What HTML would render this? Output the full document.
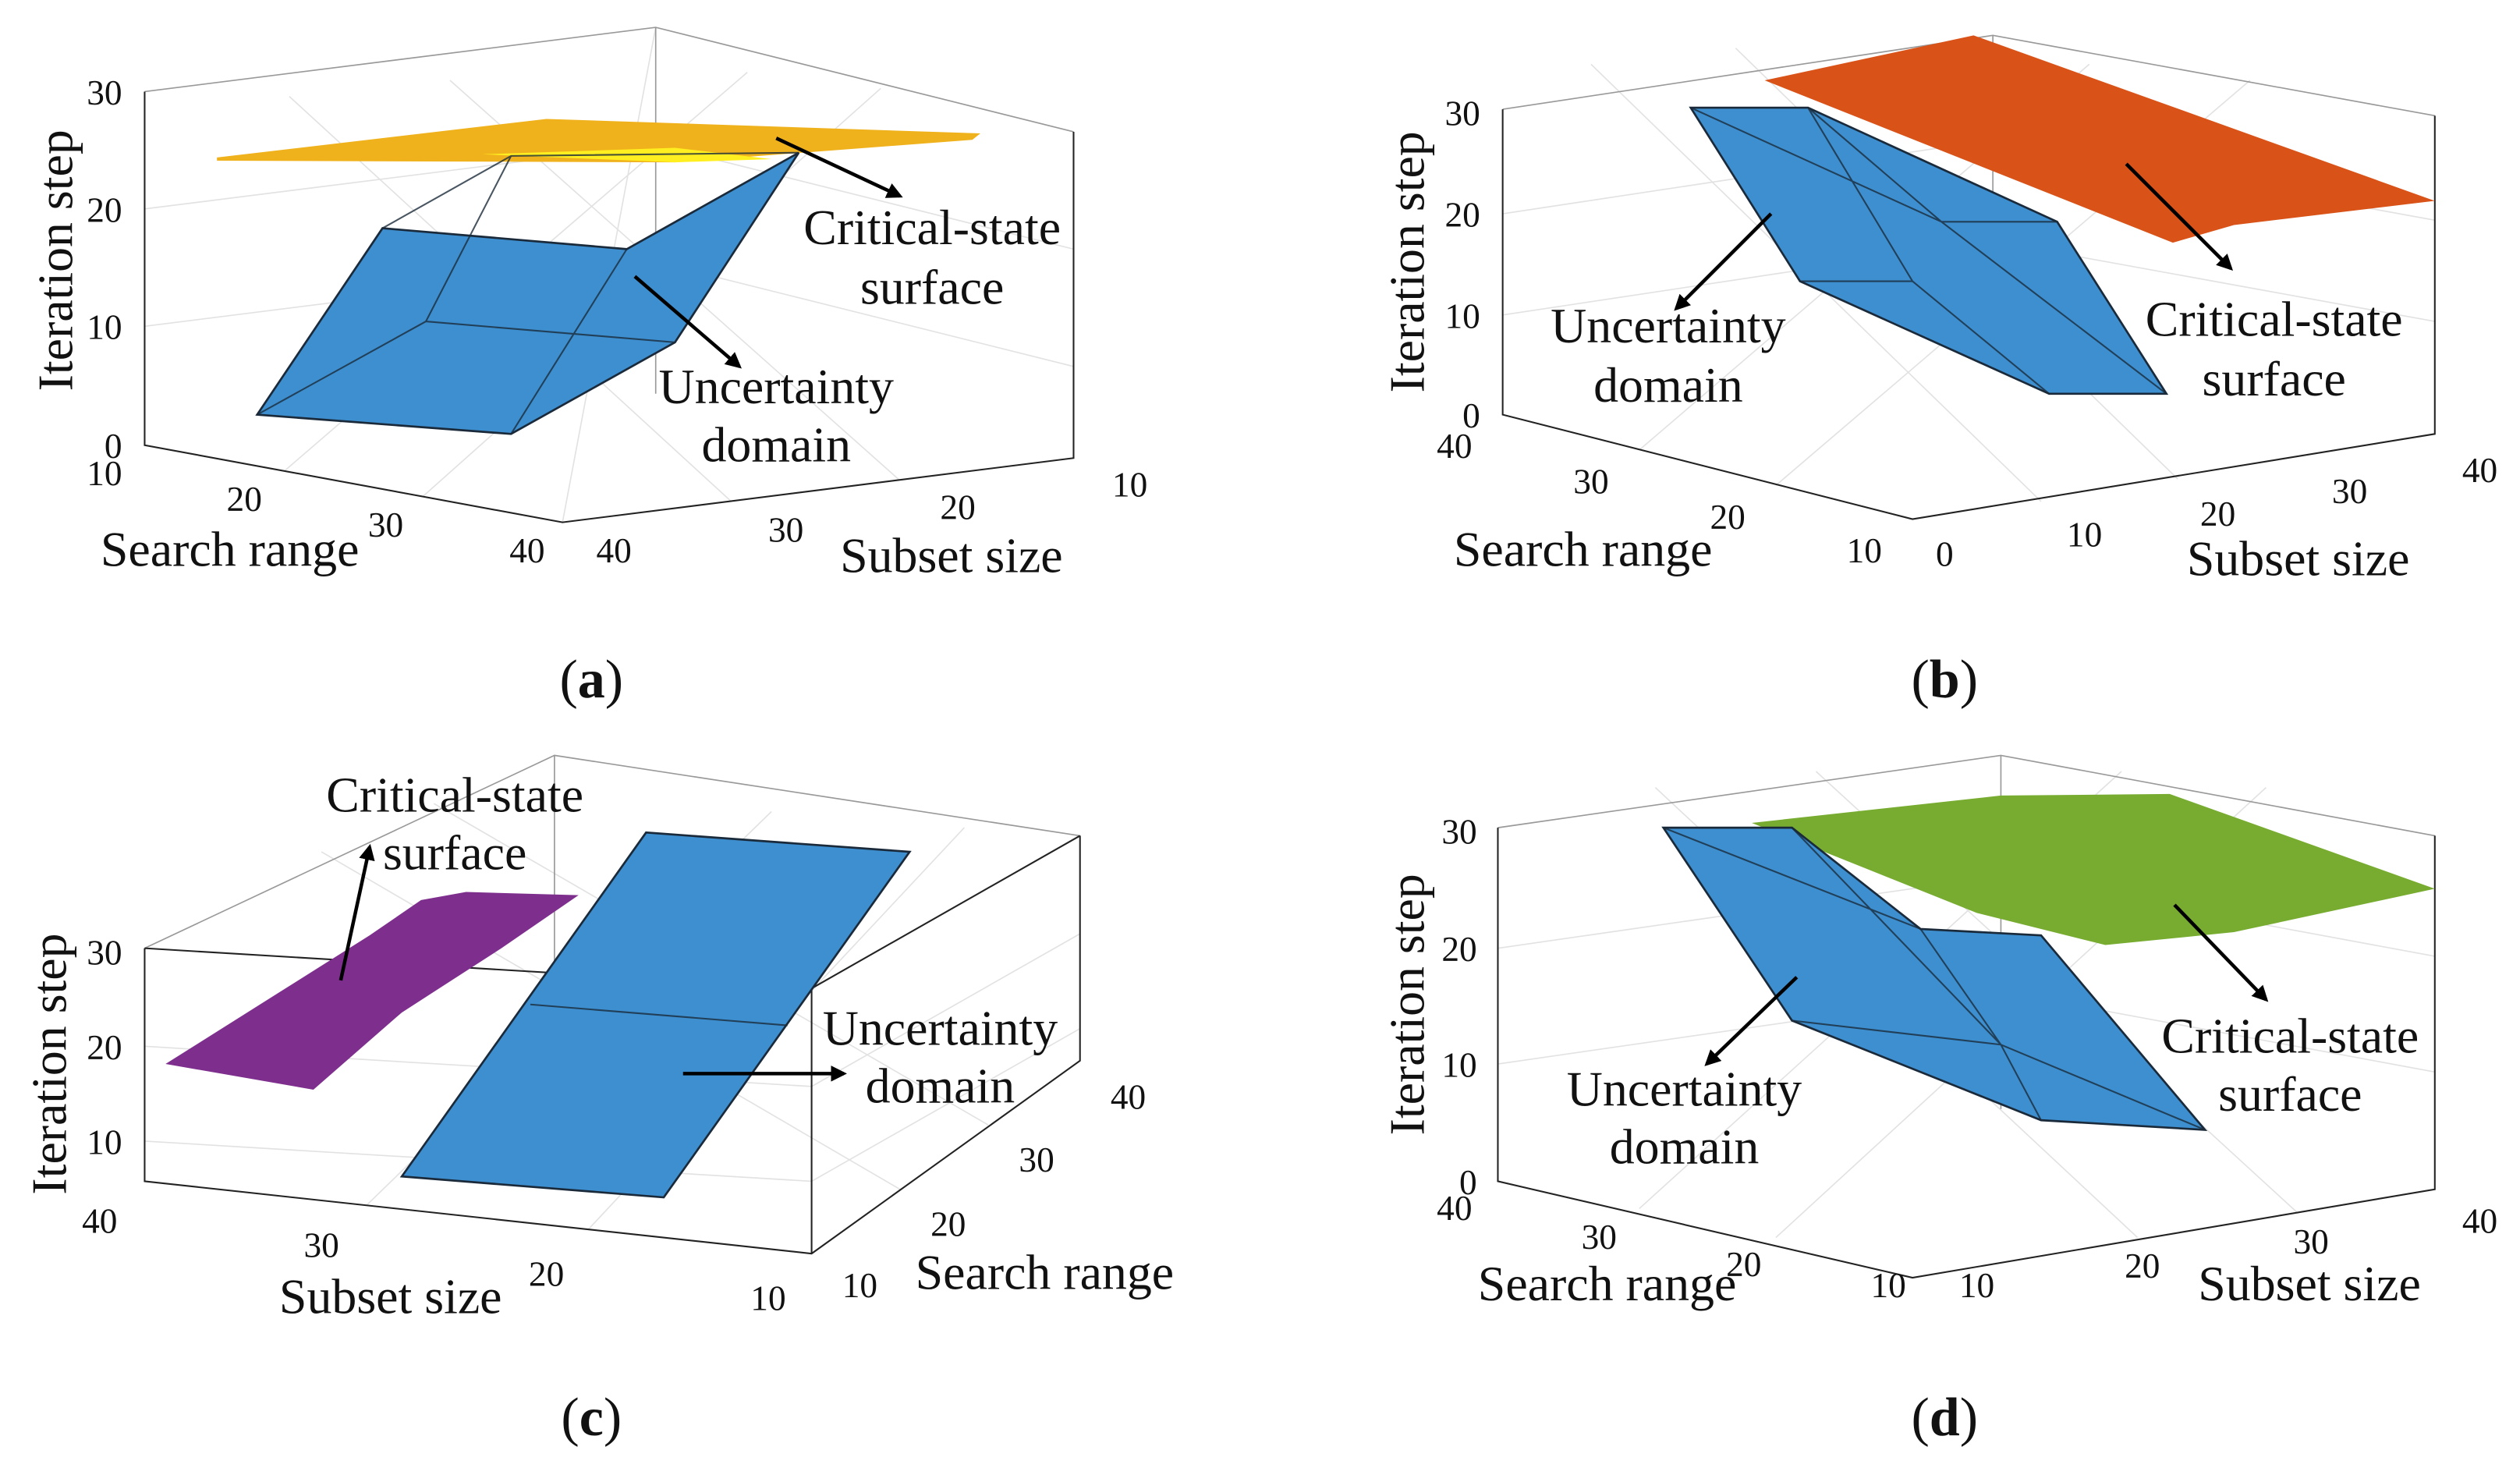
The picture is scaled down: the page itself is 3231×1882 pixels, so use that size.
<!DOCTYPE html>
<html><head><meta charset="utf-8"><style>
html,body{margin:0;padding:0;background:#fff;}
svg{display:block;}
text{font-family:"Liberation Serif",serif;fill:#111;}
.t{font-size:22px;}
.l{font-size:31px;}
.c{font-size:34px;}
.ax{stroke:#222;stroke-width:1;fill:none;}
.bk{stroke:#999;stroke-width:0.8;fill:none;}
.g{stroke:#e2e2e2;stroke-width:0.8;fill:none;}
.bl{fill:#3d8fcf;stroke:#1a2a3a;stroke-width:1.3;}
.in{stroke:#1a2a3a;stroke-width:1;fill:none;opacity:.8;}
.ar{stroke:#000;stroke-width:2.2;fill:none;marker-end:url(#ah);}
</style></head><body>
<svg width="3231" height="1882" viewBox="0 0 1568 913.4" preserveAspectRatio="none" xmlns="http://www.w3.org/2000/svg">
<defs><marker id="ah" markerWidth="10" markerHeight="10" refX="8" refY="5" orient="auto" markerUnits="userSpaceOnUse" viewBox="0 0 10 10"><path d="M0,0 L10,5 L0,10 z" fill="#000"/></marker></defs>
<rect width="1568" height="913.4" fill="#fff"/>

<!-- (a) -->
<g>
<path class="g" d="M90,130 L408,90 L668,155 M90,203 L408,163 L668,228 M177,293 L465,45 M263,309 L548,55 M350,325 L408,17 M560,299 L280,50 M455,312 L180,60"/>
<path class="bk" d="M90,57 L408,17 L668,82 M408,17 L408,245"/>
<path class="ax" d="M90,57 L90,277 L350,325 L668,285 L668,82"/>
<path d="M135,98 L340,74 L610,83 L605,87 L420,101 L135,100 z" fill="#f0b21c"/>
<path d="M300,96 L420,92 L480,99 L420,101 z" fill="#ffef20"/>
<path class="bl" d="M160,258 L238,142 L390,155 L497,95 L420,213 L318,270 z"/>
<path class="in" d="M238,142 L318,97 L497,95 M318,97 L265,200 L160,258 M265,200 L420,213 M390,155 L318,270"/>
<path class="ar" d="M483,86 L560,122"/><path class="ar" d="M395,172 L460,228"/>
<g class="t" text-anchor="end"><text x="76" y="65">30</text><text x="76" y="138">20</text><text x="76" y="211">10</text><text x="76" y="285">0</text></g>
<g class="t" text-anchor="middle"><text x="65" y="302">10</text><text x="152" y="318">20</text><text x="240" y="334">30</text><text x="328" y="350">40</text>
<text x="382" y="350">40</text><text x="489" y="337">30</text><text x="596" y="323">20</text><text x="703" y="309">10</text></g>
<g class="l" text-anchor="middle"><text x="143" y="352">Search range</text><text x="592" y="356">Subset size</text>
<text transform="translate(45,162) rotate(-90)">Iteration step</text>
<text x="580" y="152">Critical-state</text><text x="580" y="189">surface</text>
<text x="483" y="251">Uncertainty</text><text x="483" y="287">domain</text></g>
<text class="c" x="368" y="434" text-anchor="middle">(<tspan font-weight="bold">a</tspan>)</text>
</g>

<!-- (b) -->
<g>
<path class="g" d="M935,133 L1240,87 L1515,137 M935,196 L1240,150 L1515,200 M1020,280 L1300,40 M1105,302 L1400,50 M1270,312 L990,40 M1355,298 L1080,30"/>
<path class="bk" d="M935,68 L1240,22 L1515,72 M1240,22 L1240,215"/>
<path class="ax" d="M935,68 L935,258 L1190,323 L1515,270 L1515,72"/>
<path d="M1098,50 L1228,22 L1515,125 L1390,140 L1352,151 z" fill="#d95319"/>
<path class="bl" d="M1052,67 L1125,67 L1280,138 L1348,245 L1275,245 L1120,175 z"/>
<path class="in" d="M1125,67 L1190,175 L1275,245 M1190,175 L1120,175 M1125,67 L1208,138 L1280,138 M1208,138 L1348,245 M1052,67 L1208,138"/>
<path class="ar" d="M1102,133 L1043,192"/><path class="ar" d="M1323,102 L1388,167"/>
<g class="t" text-anchor="end"><text x="921" y="78">30</text><text x="921" y="141">20</text><text x="921" y="204">10</text><text x="921" y="266">0</text></g>
<g class="t" text-anchor="middle"><text x="905" y="285">40</text><text x="990" y="307">30</text><text x="1075" y="329">20</text><text x="1160" y="350">10</text>
<text x="1210" y="352">0</text><text x="1297" y="340">10</text><text x="1380" y="327">20</text><text x="1462" y="313">30</text><text x="1543" y="300">40</text></g>
<g class="l" text-anchor="middle"><text x="985" y="352">Search range</text><text x="1430" y="358">Subset size</text>
<text transform="translate(886,163) rotate(-90)">Iteration step</text>
<text x="1038" y="213">Uncertainty</text><text x="1038" y="250">domain</text>
<text x="1415" y="209">Critical-state</text><text x="1415" y="246">surface</text></g>
<text class="c" x="1210" y="434" text-anchor="middle">(<tspan font-weight="bold">b</tspan>)</text>
</g>

<!-- (c) -->
<g>
<path class="g" d="M90,651 L505,676 L672,581 M90,710 L505,735 L672,640 M228,750 L480,505 M366,765 L600,515 M560,740 L200,530 M615,700 L270,500"/>
<path class="bk" d="M90,590 L345,470 L672,520 M345,470 L345,610"/>
<path class="ax" d="M90,590 L90,735 L505,780 L672,660 L672,520 M90,590 L505,615 L672,520 M505,615 L505,780"/>
<path d="M103,662 L230,582 L262,560 L290,555 L360,557 L312,590 L250,630 L195,678 z" fill="#7e2f8e"/>
<path class="bl" d="M250,732 L402,518 L566,530 L413,745 z"/>
<path class="in" d="M330,625 L490,638"/>
<path class="ar" d="M212,610 L230,527"/><path class="ar" d="M425,668 L525,668"/>
<g class="t" text-anchor="end"><text x="76" y="600">30</text><text x="76" y="659">20</text><text x="76" y="718">10</text></g>
<g class="t" text-anchor="middle"><text x="62" y="767">40</text><text x="200" y="782">30</text><text x="340" y="800">20</text><text x="478" y="815">10</text>
<text x="535" y="807">10</text><text x="590" y="769">20</text><text x="645" y="729">30</text><text x="702" y="690">40</text></g>
<g class="l" text-anchor="middle"><text x="243" y="817">Subset size</text><text x="650" y="802">Search range</text>
<text transform="translate(41,662) rotate(-90)">Iteration step</text>
<text x="283" y="505">Critical-state</text><text x="283" y="541">surface</text>
<text x="585" y="650">Uncertainty</text><text x="585" y="686">domain</text></g>
<text class="c" x="368" y="893" text-anchor="middle">(<tspan font-weight="bold">c</tspan>)</text>
</g>

<!-- (d) -->
<g>
<path class="g" d="M932,590 L1245,545 L1515,595 M932,662 L1245,617 L1515,667 M1020,752 L1320,480 M1105,770 L1410,490 M1330,770 L1030,490 M1430,755 L1130,480"/>
<path class="bk" d="M932,515 L1245,470 L1515,520 M1245,470 L1245,690"/>
<path class="ax" d="M932,515 L932,735 L1190,795 L1515,740 L1515,520"/>
<path d="M1090,512 L1245,495 L1350,494 L1515,553 L1390,580 L1310,588 L1230,568 z" fill="#77ac30"/>
<path class="bl" d="M1035,515 L1115,515 L1195,578 L1270,582 L1372,703 L1270,697 L1115,635 z"/>
<path class="in" d="M1035,515 L1195,578 M1115,635 L1245,650 L1270,697 M1195,578 L1245,650 M1245,650 L1372,703 M1115,515 L1245,650"/>
<path class="ar" d="M1118,608 L1062,662"/><path class="ar" d="M1353,563 L1410,622"/>
<g class="t" text-anchor="end"><text x="919" y="525">30</text><text x="919" y="598">20</text><text x="919" y="670">10</text><text x="919" y="743">0</text></g>
<g class="t" text-anchor="middle"><text x="905" y="759">40</text><text x="995" y="777">30</text><text x="1085" y="794">20</text><text x="1175" y="807">10</text>
<text x="1230" y="807">10</text><text x="1333" y="795">20</text><text x="1438" y="780">30</text><text x="1543" y="767">40</text></g>
<g class="l" text-anchor="middle"><text x="1000" y="809">Search range</text><text x="1437" y="809">Subset size</text>
<text transform="translate(886,625) rotate(-90)">Iteration step</text>
<text x="1048" y="688">Uncertainty</text><text x="1048" y="724">domain</text>
<text x="1425" y="655">Critical-state</text><text x="1425" y="691">surface</text></g>
<text class="c" x="1210" y="893" text-anchor="middle">(<tspan font-weight="bold">d</tspan>)</text>
</g>
</svg>
</body></html>
